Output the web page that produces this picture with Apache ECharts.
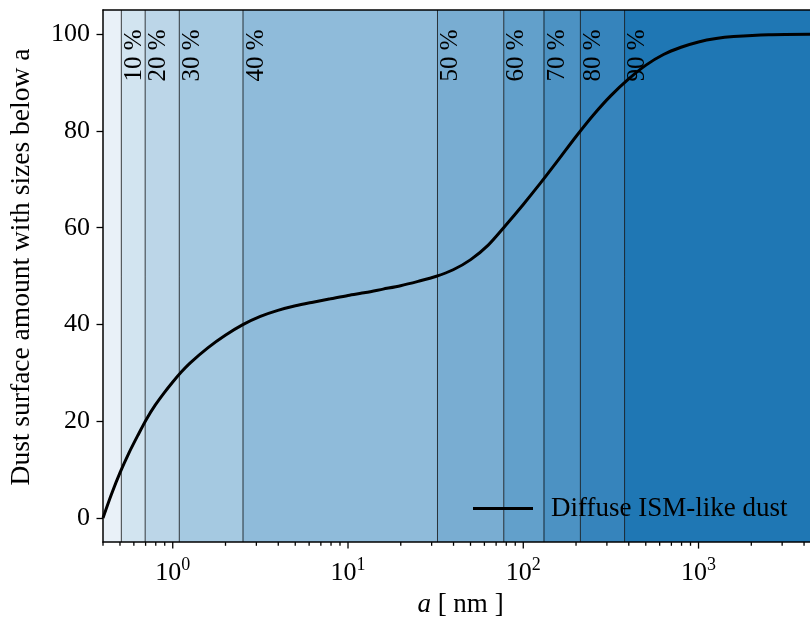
<!DOCTYPE html>
<html>
<head>
<meta charset="utf-8">
<script src="https://cdn.jsdelivr.net/npm/echarts@6/dist/echarts.min.js"></script>
<style>
html, body { margin: 0; padding: 0; background: #fff; }
#chart { width: 810px; height: 623px; }
</style>
</head>
<body>
<div id="chart"></div>
<script>
// grain size a [nm] and cumulative surface amount [%]
var sizes  = [0.4, 0.447, 0.501, 0.562, 0.631, 0.708, 0.794, 0.891, 1, 1.122, 1.259, 1.585, 1.995,
              2.512, 3.162, 3.981, 5.012, 6.31, 7.943, 10, 12.59, 15.85, 19.95, 25.12, 31.62, 39.81,
              50.12, 63.1, 79.43, 100, 125.9, 158.5, 199.5, 251.2, 316.2, 398.1, 501.2, 631, 794.3,
              1000, 1259, 1585, 2512, 4325];
var amount = [0, 4.9, 9.4, 13.4, 17.0, 20.4, 23.3, 25.8, 28.1, 30.2, 32.05, 35.15, 37.75,
              39.95, 41.65, 42.9, 43.85, 44.6, 45.3, 46.0, 46.6, 47.3, 48.0, 48.9, 49.9, 51.3,
              53.4, 56.4, 60.5, 64.8, 69.3, 74.0, 78.8, 83.3, 87.3, 90.7, 93.6, 95.8, 97.3,
              98.4, 99.1, 99.5, 99.9, 100];

// sizes where 10 %, 20 %, ... of the surface is reached
var pctSizes  = [0.509, 0.696, 1.09, 2.517, 32.4, 77.4, 131.3, 211.8, 378.5];
var pctLabels = ['10 %', '20 %', '30 %', '40 %', '50 %', '60 %', '70 %', '80 %', '90 %'];

var xRange = [0.4, 4325];
var yRange = [-5, 105];
var yTicks = [0, 20, 40, 60, 80, 100];
var xMajorTicks = [1, 10, 100, 1000];
var xMinorTicks = [0.4, 0.5, 0.6, 0.7, 0.8, 0.9, 2, 3, 4, 5, 6, 7, 8, 9, 20, 30, 40, 50, 60, 70, 80, 90,
                   200, 300, 400, 500, 600, 700, 800, 900, 2000, 3000, 4000];
var seriesName = 'Diffuse ISM-like dust';

var FONT = 'Liberation Serif';
// C0 with alpha 0.1 ... 1.0 over white
var bandColors = ['#e9f1f8', '#d2e4f0', '#bcd6e8', '#a5c9e1', '#8fbbda', '#79add2', '#62a0cb', '#4c92c3', '#3684bc', '#1f77b4'];

var bounds = [xRange[0]].concat(pctSizes, [xRange[1]]);
var bandData = [];
for (var i = 0; i < bounds.length - 1; i++) bandData.push([bounds[i], bounds[i + 1], i]);

var tickData = [];
xMajorTicks.forEach(function (v) { tickData.push([v, 6.5]); });
xMinorTicks.forEach(function (v) { tickData.push([v, 3.7]); });

var myChart = echarts.init(document.getElementById('chart'));
var option = {
    animation: false,
    grid: { left: 101, top: 10, right: -2, bottom: 77 },
    legend: {
        data: [{ name: seriesName, icon: 'rect' }],
        left: 468, top: 490,
        itemWidth: 60, itemHeight: 3,
        itemStyle: { color: '#000' },
        textStyle: { fontFamily: FONT, fontSize: 27, color: '#000', padding: [0, 0, 0, 13] }
    },
    xAxis: [{
        type: 'log',
        logBase: 10,
        min: xRange[0],
        max: xRange[1],
        z: 10,
        axisLine: { onZero: false, lineStyle: { color: '#000', width: 1.5 } },
        axisTick: { show: false },
        splitLine: { show: false },
        axisLabel: {
            margin: 14,
            showMinLabel: false,
            showMaxLabel: false,
            formatter: function (v) { return '{b|10}{s|' + Math.round(Math.log10(v)) + '}'; },
            rich: {
                b: { fontFamily: FONT, fontSize: 26, color: '#000', verticalAlign: 'bottom', lineHeight: 30 },
                s: { fontFamily: FONT, fontSize: 18, color: '#000', verticalAlign: 'top', lineHeight: 30 }
            }
        },
        name: '{i|a} [ nm ]',
        nameLocation: 'middle',
        nameGap: 47,
        nameTextStyle: {
            fontFamily: FONT, fontSize: 27, color: '#000',
            padding: [0, 0, 0, 8],
            rich: { i: { fontFamily: FONT, fontSize: 27, fontStyle: 'italic', color: '#000' } }
        }
    }, {
        type: 'value',
        position: 'top',
        min: 0, max: 1,
        z: 10,
        axisLine: { show: true, onZero: false, lineStyle: { color: '#000', width: 1.5 } },
        axisTick: { show: false },
        axisLabel: { show: false },
        splitLine: { show: false }
    }],
    yAxis: {
        type: 'value',
        min: yRange[0],
        max: yRange[1],
        z: 10,
        axisLine: { show: true, onZero: false, lineStyle: { color: '#000', width: 1.5 } },
        axisTick: { show: true, length: 6.5, lineStyle: { color: '#000', width: 1.3 }, customValues: yTicks },
        axisLabel: { customValues: yTicks, margin: 13, fontFamily: FONT, fontSize: 26, color: '#000' },
        splitLine: { show: false },
        name: 'Dust surface amount with sizes below a',
        nameLocation: 'middle',
        nameGap: 67,
        nameTextStyle: { fontFamily: FONT, fontSize: 27.5, color: '#000', padding: [0, 0, 0, 18] }
    },
    series: [{
        // shaded bands between percentiles
        type: 'custom',
        z: 1,
        silent: true,
        data: bandData,
        renderItem: function (params, api) {
            var p0 = api.coord([api.value(0), yRange[1]]);
            var p1 = api.coord([api.value(1), yRange[0]]);
            return {
                type: 'rect',
                shape: { x: p0[0], y: p0[1], width: p1[0] - p0[0], height: p1[1] - p0[1] },
                style: { fill: bandColors[api.value(2)] }
            };
        }
    }, {
        // percentile lines + labels
        type: 'custom',
        z: 2,
        silent: true,
        data: pctSizes.map(function (a, i) { return [a, 90, i]; }),
        renderItem: function (params, api) {
            var a = api.value(0);
            var top = api.coord([a, yRange[1]]);
            var bot = api.coord([a, yRange[0]]);
            var lab = api.coord([a, api.value(1)]);
            return {
                type: 'group',
                children: [{
                    type: 'line',
                    shape: { x1: top[0], y1: top[1], x2: bot[0], y2: bot[1] },
                    style: { stroke: '#000', lineWidth: 1, opacity: 0.75 }
                }, {
                    type: 'text',
                    x: lab[0] + 13,
                    y: lab[1] - 1,
                    rotation: Math.PI / 2,
                    style: {
                        text: pctLabels[api.value(2)],
                        fontFamily: FONT, fontSize: 25, fill: '#000',
                        align: 'left', verticalAlign: 'middle'
                    }
                }]
            };
        }
    }, {
        name: seriesName,
        type: 'line',
        z: 3,
        data: sizes.map(function (a, i) { return [a, amount[i]]; }),
        smooth: 0.3,
        symbol: 'none',
        lineStyle: { color: '#000', width: 3 },
        itemStyle: { color: '#000' }
    }, {
        // x ticks, matplotlib style (major + minor)
        type: 'custom',
        z: 11,
        silent: true,
        clip: false,
        data: tickData,
        renderItem: function (params, api) {
            var p = api.coord([api.value(0), yRange[0]]);
            return {
                type: 'line',
                shape: { x1: p[0], y1: p[1], x2: p[0], y2: p[1] + api.value(1) },
                style: { stroke: '#000', lineWidth: 1.3 }
            };
        }
    }]
};
myChart.setOption(option);
</script>
</body>
</html>
